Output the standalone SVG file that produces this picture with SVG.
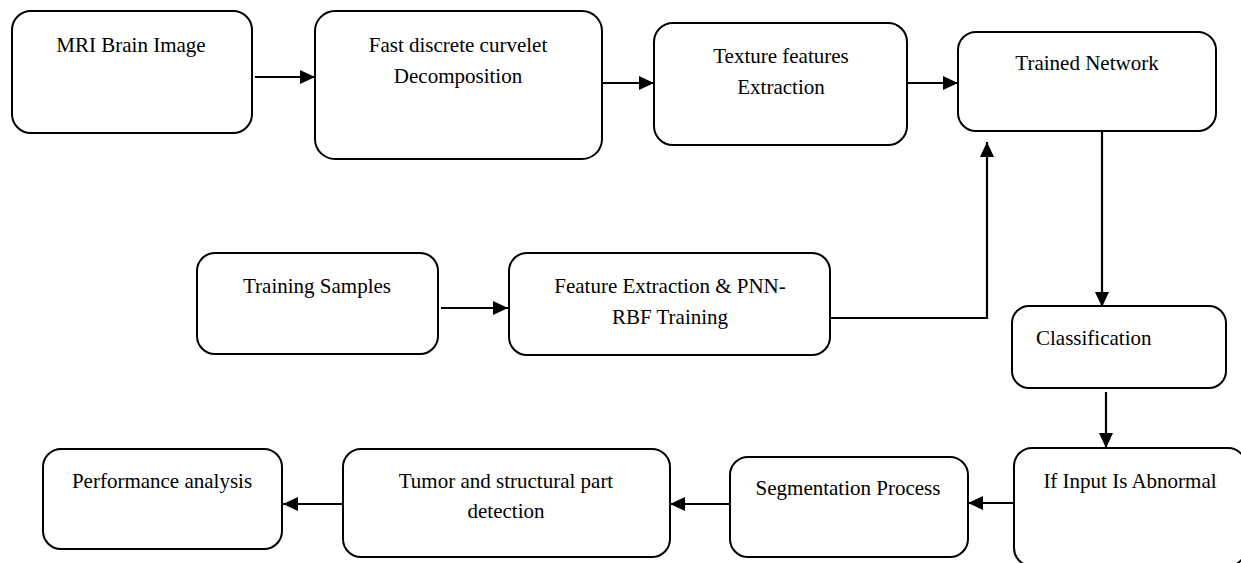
<svg xmlns="http://www.w3.org/2000/svg" width="1241" height="563" viewBox="0 0 1241 563">
<style>
.box{fill:#fff;stroke:#000;stroke-width:2}
.t{font-family:"Liberation Serif","Times New Roman",serif;font-size:21px;fill:#000;text-anchor:middle}
.c{fill:none;stroke:#000;stroke-width:2.2}
</style>
<defs>
<marker id="ah" markerUnits="userSpaceOnUse" markerWidth="16" markerHeight="15" refX="15" refY="7" orient="auto">
<path d="M0,0 L15,7 L0,14 z" fill="#000"/>
</marker>
</defs>
<rect width="1241" height="563" fill="#fff"/>
<g id="connectors">
<line class="c" x1="255" y1="77" x2="315" y2="77" marker-end="url(#ah)"/>
<line class="c" x1="602" y1="83" x2="654" y2="83" marker-end="url(#ah)"/>
<line class="c" x1="907" y1="83" x2="958" y2="83" marker-end="url(#ah)"/>
<line class="c" x1="441" y1="308" x2="508" y2="308" marker-end="url(#ah)"/>
<polyline class="c" points="830,318 987,318 987,142" marker-end="url(#ah)"/>
<line class="c" x1="1102" y1="131" x2="1102" y2="307" marker-end="url(#ah)"/>
<line class="c" x1="1106" y1="392" x2="1106" y2="448" marker-end="url(#ah)"/>
<line class="c" x1="1014" y1="503" x2="968" y2="503" marker-end="url(#ah)"/>
<line class="c" x1="730" y1="504" x2="670" y2="504" marker-end="url(#ah)"/>
<line class="c" x1="343" y1="504" x2="283" y2="504" marker-end="url(#ah)"/>
</g>
<g id="mri">
<rect class="box" x="12" y="11" width="240" height="122" rx="19"/>
<text class="t" x="131" y="52">MRI Brain Image</text>
</g>
<g id="fdct">
<rect class="box" x="315" y="11" width="287" height="148" rx="20"/>
<text class="t" x="458" y="52">Fast discrete curvelet</text>
<text class="t" x="458" y="83">Decomposition</text>
</g>
<g id="texture">
<rect class="box" x="654" y="23" width="253" height="122" rx="19"/>
<text class="t" x="781" y="63">Texture features</text>
<text class="t" x="781" y="94">Extraction</text>
</g>
<g id="trained">
<rect class="box" x="958" y="32" width="258" height="99" rx="18"/>
<text class="t" x="1087" y="70">Trained Network</text>
</g>
<g id="training">
<rect class="box" x="197" y="253" width="241" height="101" rx="18"/>
<text class="t" x="317" y="293">Training Samples</text>
</g>
<g id="feature">
<rect class="box" x="509" y="253" width="321" height="102" rx="18"/>
<text class="t" x="670" y="293">Feature Extraction &amp; PNN-</text>
<text class="t" x="670" y="324">RBF Training</text>
</g>
<g id="classification">
<rect class="box" x="1012" y="306" width="214" height="82" rx="17"/>
<text class="t" x="1036" y="345" style="text-anchor:start">Classification</text>
</g>
<g id="abnormal">
<rect class="box" x="1014" y="448" width="232" height="118" rx="18"/>
<text class="t" x="1130" y="488">If Input Is Abnormal</text>
</g>
<g id="segmentation">
<rect class="box" x="730" y="457" width="238" height="100" rx="18"/>
<text class="t" x="848" y="495">Segmentation Process</text>
</g>
<g id="tumor">
<rect class="box" x="343" y="449" width="327" height="108" rx="18"/>
<text class="t" x="506" y="488">Tumor and structural part</text>
<text class="t" x="506" y="518">detection</text>
</g>
<g id="performance">
<rect class="box" x="43" y="449" width="239" height="100" rx="18"/>
<text class="t" x="162" y="488">Performance analysis</text>
</g>
</svg>
